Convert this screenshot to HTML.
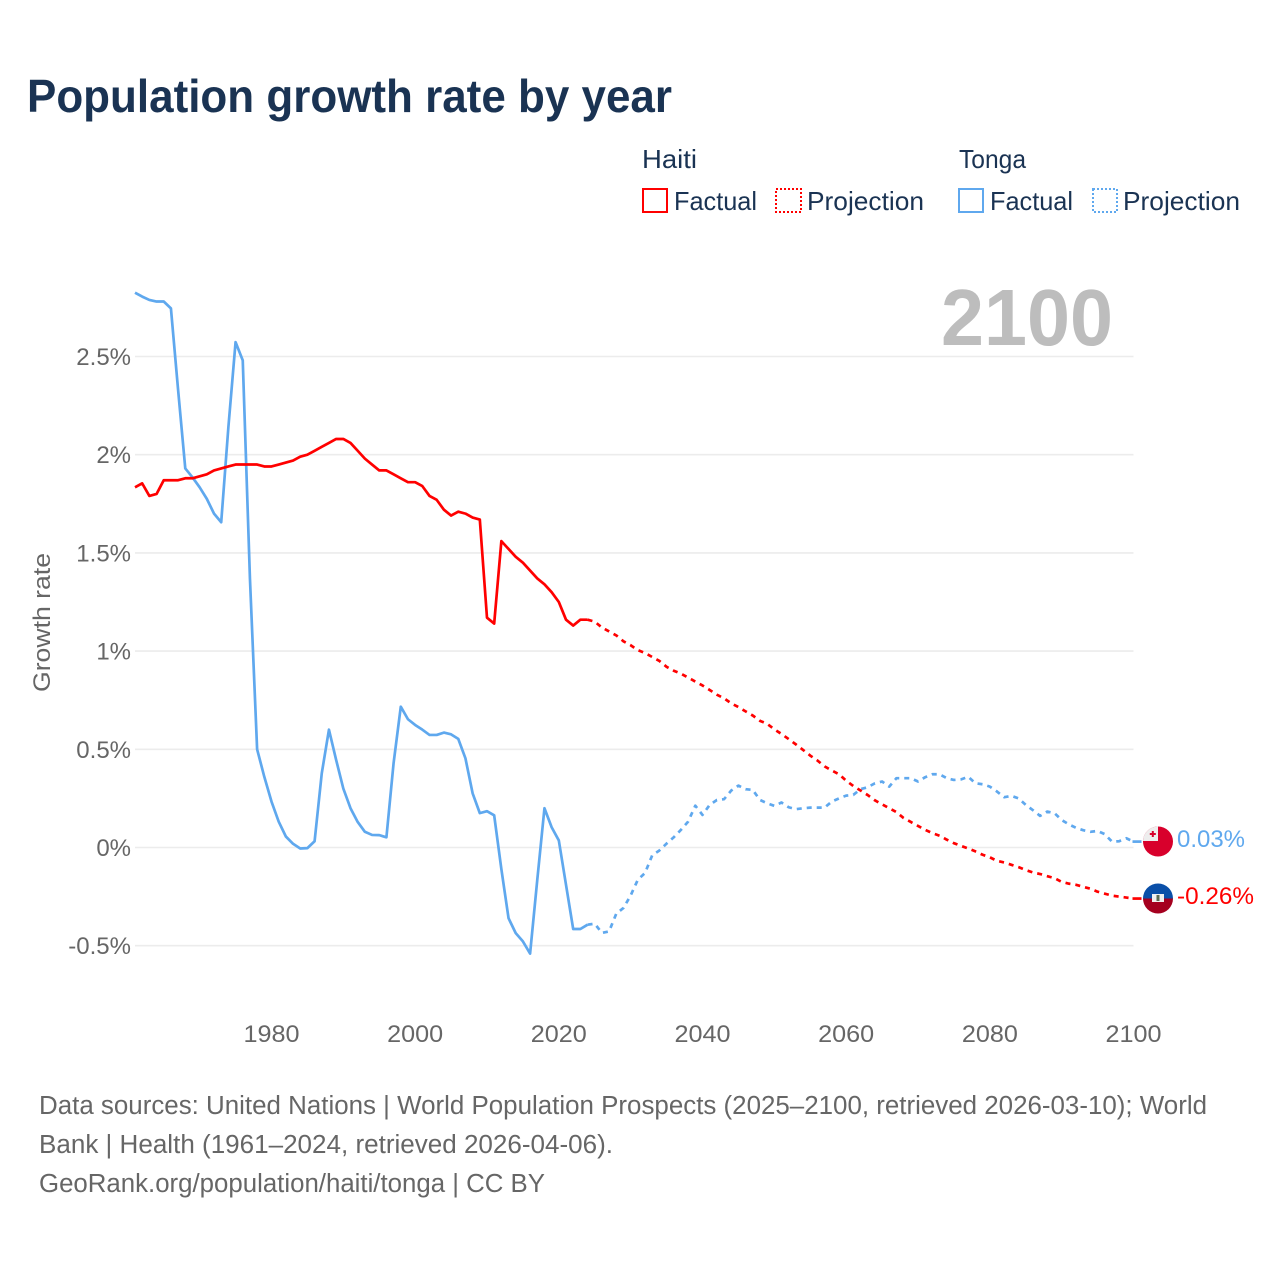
<!DOCTYPE html>
<html lang="en">
<head>
<meta charset="utf-8">
<title>Population growth rate by year</title>
<style>
  html, body { margin: 0; padding: 0; background: #fff; }
  svg { display: block; font-family: "Liberation Sans", sans-serif; }
  .tick { fill: #666; font-size: 24px; }
  .foot { fill: #666; font-size: 25.5px; }
  .leg { fill: #1a3353; font-size: 26px; }
</style>
</head>
<body>
<svg id="chart" width="1280" height="1280" viewBox="0 0 1280 1280" xmlns="http://www.w3.org/2000/svg">
  <defs>
    <clipPath id="flag-clip-tonga"><circle cx="1158" cy="841.5" r="15"/></clipPath>
    <clipPath id="flag-clip-haiti"><circle cx="1158" cy="898.5" r="15"/></clipPath>
  </defs>
  <rect x="0" y="0" width="1280" height="1280" fill="#fff"/>
  <text x="27" y="112" font-size="46" font-weight="700" fill="#1a3353" textLength="645" lengthAdjust="spacingAndGlyphs">Population growth rate by year</text>

  <g>
    <text class="leg" x="642" y="168" textLength="55" lengthAdjust="spacingAndGlyphs">Haiti</text>
    <rect x="643" y="189" width="24" height="23" fill="none" stroke="#ff0000" stroke-width="2"/>
    <text class="leg" x="674" y="210" textLength="83" lengthAdjust="spacingAndGlyphs">Factual</text>
    <rect x="776" y="189" width="25" height="23" fill="none" stroke="#ff0000" stroke-width="2" stroke-dasharray="2 2"/>
    <text class="leg" x="807" y="210" textLength="117" lengthAdjust="spacingAndGlyphs">Projection</text>
    <text class="leg" x="959" y="168" textLength="67" lengthAdjust="spacingAndGlyphs">Tonga</text>
    <rect x="959" y="189" width="24" height="23" fill="none" stroke="#5fa8ee" stroke-width="2"/>
    <text class="leg" x="990" y="210" textLength="83" lengthAdjust="spacingAndGlyphs">Factual</text>
    <rect x="1093" y="189" width="24" height="23" fill="none" stroke="#5fa8ee" stroke-width="2" stroke-dasharray="2 2"/>
    <text class="leg" x="1123" y="210" textLength="117" lengthAdjust="spacingAndGlyphs">Projection</text>
  </g>

  <g id="grid"></g>
  <g id="y-ticks"></g>
  <g id="x-ticks"></g>
  <text class="tick" transform="translate(50 622.5) rotate(-90)" text-anchor="middle" textLength="139" lengthAdjust="spacingAndGlyphs">Growth rate</text>

  <text x="1113" y="345" text-anchor="end" font-size="80" font-weight="700" fill="#bdbdbd" textLength="172" lengthAdjust="spacingAndGlyphs">2100</text>

  <g id="series"></g>

  <g clip-path="url(#flag-clip-tonga)">
    <rect x="1143" y="826" width="30" height="31" fill="#d8002c"/>
    <rect x="1143" y="826" width="15" height="15" fill="#eeeeee"/>
    <rect x="1151.8" y="831" width="2" height="6" fill="#d8002c"/>
    <rect x="1149.8" y="833" width="6" height="2" fill="#d8002c"/>
  </g>
  <g clip-path="url(#flag-clip-haiti)">
    <rect x="1143" y="883" width="30" height="15.5" fill="#0a4fa8"/>
    <rect x="1143" y="898.5" width="30" height="15.5" fill="#a5001f"/>
    <rect x="1152" y="894" width="12" height="8" fill="#f0f0f0"/>
    <rect x="1156.5" y="895" width="3" height="6" fill="#5b6b52"/>
  </g>

  <text x="1177" y="847" font-size="24" fill="#5fa8ee" textLength="68" lengthAdjust="spacingAndGlyphs">0.03%</text>
  <text x="1177" y="904" font-size="24" fill="#ff0000" textLength="77" lengthAdjust="spacingAndGlyphs">-0.26%</text>

  <g>
    <text class="foot" x="39" y="1114" textLength="1168" lengthAdjust="spacingAndGlyphs">Data sources: United Nations | World Population Prospects (2025–2100, retrieved 2026-03-10); World</text>
    <text class="foot" x="39" y="1153" textLength="574" lengthAdjust="spacingAndGlyphs">Bank | Health (1961–2024, retrieved 2026-04-06).</text>
    <text class="foot" x="39" y="1192" textLength="506" lengthAdjust="spacingAndGlyphs">GeoRank.org/population/haiti/tonga | CC BY</text>
  </g>
</svg>

<script>
// Chart data
const firstYear = 1961;
const yTickValues = [-0.5, 0, 0.5, 1, 1.5, 2, 2.5];
const yTickLabels = ["-0.5%", "0%", "0.5%", "1%", "1.5%", "2%", "2.5%"];
const xTickYears = [1980, 2000, 2020, 2040, 2060, 2080, 2100];

// 1961-2024
const haitiFactual = [
  1.834, 1.854, 1.79, 1.80, 1.87, 1.87, 1.87, 1.88, 1.88, 1.89,
  1.90, 1.92, 1.93, 1.94, 1.95, 1.95, 1.95, 1.95, 1.94, 1.94,
  1.95, 1.96, 1.97, 1.99, 2.00, 2.02, 2.04, 2.06, 2.08, 2.08,
  2.06, 2.02, 1.98, 1.95, 1.92, 1.92, 1.90, 1.88, 1.86, 1.86,
  1.84, 1.79, 1.77, 1.72, 1.69, 1.71, 1.70, 1.68, 1.67, 1.17,
  1.14, 1.56, 1.52, 1.48, 1.45, 1.41, 1.37, 1.34, 1.30, 1.25,
  1.16, 1.13, 1.16, 1.16
];
// 2025-2100
const haitiProjection = [
  1.15, 1.12, 1.10, 1.08, 1.05, 1.03,
  1.005, 0.99, 0.97, 0.95, 0.92, 0.90, 0.885, 0.865, 0.845, 0.825,
  0.802, 0.778, 0.76, 0.734, 0.715, 0.693, 0.672, 0.645, 0.63, 0.602,
  0.578, 0.552, 0.525, 0.497, 0.468, 0.443, 0.413, 0.392, 0.373, 0.34,
  0.313, 0.29, 0.267, 0.24, 0.22, 0.20, 0.18, 0.15, 0.13, 0.11,
  0.09, 0.073, 0.06, 0.04, 0.022, 0.008, -0.005, -0.02, -0.037, -0.05,
  -0.068, -0.076, -0.088, -0.10, -0.115, -0.127, -0.135, -0.146, -0.156, -0.175,
  -0.184, -0.19, -0.20, -0.21, -0.225, -0.235, -0.245, -0.25, -0.255, -0.26
];
// 1961-2024
const tongaFactual = [
  2.825, 2.805, 2.788, 2.78, 2.78, 2.745, 2.33, 1.93, 1.885, 1.834,
  1.775, 1.70, 1.656, 2.14, 2.573, 2.48, 1.37, 0.50, 0.36, 0.234,
  0.132, 0.056, 0.019, -0.005, -0.003, 0.032, 0.378, 0.60, 0.446, 0.30,
  0.20, 0.13, 0.08, 0.064, 0.063, 0.052, 0.43, 0.717, 0.653, 0.624,
  0.60, 0.573, 0.573, 0.585, 0.576, 0.553, 0.454, 0.276, 0.175, 0.185,
  0.164, -0.11, -0.36, -0.436, -0.478, -0.54, -0.165, 0.20, 0.103, 0.036,
  -0.19, -0.415, -0.415, -0.393
];
// 2025-2100
const tongaProjection = [
  -0.388, -0.435, -0.427, -0.337, -0.308, -0.244,
  -0.164, -0.13, -0.04, -0.015, 0.02, 0.052, 0.09, 0.132, 0.213, 0.166,
  0.217, 0.242, 0.246, 0.29, 0.315, 0.297, 0.293, 0.242, 0.225, 0.212,
  0.229, 0.205, 0.195, 0.20, 0.203, 0.203, 0.203, 0.234, 0.25, 0.264,
  0.268, 0.297, 0.307, 0.327, 0.336, 0.31, 0.353, 0.353, 0.353, 0.336,
  0.358, 0.373, 0.373, 0.353, 0.344, 0.347, 0.36, 0.327, 0.322, 0.31,
  0.285, 0.256, 0.263, 0.25, 0.217, 0.19, 0.161, 0.183, 0.175, 0.14,
  0.118, 0.10, 0.088, 0.08, 0.084, 0.068, 0.03, 0.032, 0.047, 0.03
];

// Axis functions
const SVGNS = "http://www.w3.org/2000/svg";
function xScale(year) { return 135 + (year - 1961) * (1133.5 - 135) / 139; }
function yScale(v) { return 847.5 - v * 196.4; }

function polylinePoints(values, startYear) {
  return values.map(function (v, i) {
    return xScale(startYear + i).toFixed(2) + "," + yScale(v).toFixed(2);
  }).join(" ");
}

const gridGroup = document.getElementById("grid");
const yTickGroup = document.getElementById("y-ticks");
const xTickGroup = document.getElementById("x-ticks");
const seriesGroup = document.getElementById("series");

yTickValues.forEach(function (v, i) {
  const line = document.createElementNS(SVGNS, "line");
  
  
  line.setAttribute("x1", 135);
  line.setAttribute("x2", 1133.5);
  line.setAttribute("y1", yScale(v));
  line.setAttribute("y2", yScale(v));
  line.setAttribute("stroke", "#ececec");
  line.setAttribute("stroke-width", "1.6");
  gridGroup.appendChild(line);

  const label = document.createElementNS(SVGNS, "text");
  
  
  label.setAttribute("class", "tick");
  label.setAttribute("x", 131);
  label.setAttribute("y", yScale(v) + 8.5);
  label.setAttribute("text-anchor", "end");
  label.textContent = yTickLabels[i];
  yTickGroup.appendChild(label);
});

xTickYears.forEach(function (year) {
  const label = document.createElementNS(SVGNS, "text");
  
  
  label.setAttribute("class", "tick");
  label.setAttribute("x", xScale(year));
  label.setAttribute("y", 1042);
  label.setAttribute("text-anchor", "middle");
  label.setAttribute("textLength", "56");
  label.setAttribute("lengthAdjust", "spacingAndGlyphs");
  label.textContent = String(year);
  xTickGroup.appendChild(label);
});

function drawLine(points, color, dashed, name) {
  const p = document.createElementNS(SVGNS, "polyline");
  
  
  p.setAttribute("points", points);
  p.setAttribute("fill", "none");
  p.setAttribute("stroke", color);
  p.setAttribute("stroke-width", "2.7");
  p.setAttribute("stroke-linejoin", "round");
  if (dashed) p.setAttribute("stroke-dasharray", "5 5");
  seriesGroup.appendChild(p);
}

function drawConnector(lastValue, color, name) {
  const c = document.createElementNS(SVGNS, "line");
  
  
  c.setAttribute("x1", xScale(2100) - 1);
  c.setAttribute("x2", xScale(2100) + 8);
  c.setAttribute("y1", yScale(lastValue));
  c.setAttribute("y2", yScale(lastValue));
  c.setAttribute("stroke", color);
  c.setAttribute("stroke-width", "2.7");
  seriesGroup.appendChild(c);
}

const factualLastYear = firstYear + haitiFactual.length - 1;

drawLine(polylinePoints(tongaFactual, firstYear), "#5fa8ee", false, "tonga-factual-line");
drawLine(polylinePoints([tongaFactual[tongaFactual.length - 1]].concat(tongaProjection), factualLastYear), "#5fa8ee", true, "tonga-projection-line");
drawConnector(tongaProjection[tongaProjection.length - 1], "#5fa8ee", "tonga-end-connector");

drawLine(polylinePoints(haitiFactual, firstYear), "#ff0000", false, "haiti-factual-line");
drawLine(polylinePoints([haitiFactual[haitiFactual.length - 1]].concat(haitiProjection), factualLastYear), "#ff0000", true, "haiti-projection-line");
drawConnector(haitiProjection[haitiProjection.length - 1], "#ff0000", "haiti-end-connector");
</script>
</body>
</html>
